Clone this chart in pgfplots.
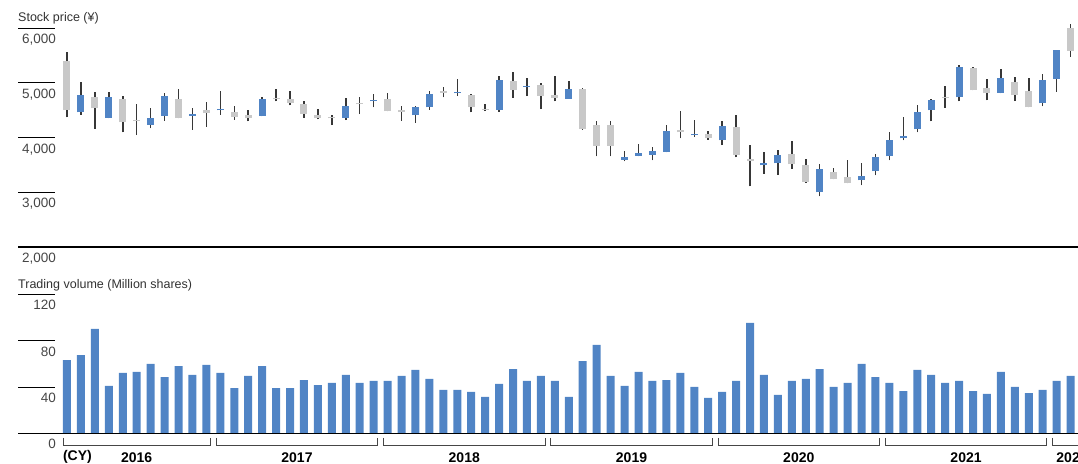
\documentclass[border=0pt]{standalone}
\usepackage{pgfplots}
\pgfplotsset{compat=1.18}
\usepackage{pgfplotstable}
\usepackage{fontspec}
\setmainfont{Liberation Sans}

\definecolor{candleblue}{RGB}{80,132,197}
\definecolor{candlegray}{RGB}{200,200,200}
\definecolor{wickcol}{RGB}{55,55,55}
\definecolor{labelgray}{RGB}{70,70,70}
\definecolor{titlegray}{RGB}{50,50,50}
\definecolor{bracketcol}{RGB}{70,70,70}

% monthly candles, rising months (blue): x, body low/high, wick low/high
\pgfplotstableread{
x lo hi low high
1 4460 4783 4418 5026
3 4363 4746 4350 4838
6 4235 4363 4168 4540
7 4400 4765 4308 4807
9 4400 4436 4144 4540
11 4497 4525 4418 4856
14 4400 4710 4388 4734
20 4363 4582 4320 4722
22 4661 4685 4552 4795
25 4406 4564 4272 4576
26 4552 4801 4509 4856
28 4807 4838 4759 5063
31 4509 5057 4473 5130
33 4929 4950 4759 5093
36 4710 4892 4710 5032
40 3597 3651 3566 3761
41 3670 3724 3657 3889
42 3688 3761 3584 3822
43 3743 4126 3730 4235
45 4041 4071 4010 4327
47 3949 4217 3864 4302
50 3493 3542 3335 3737
51 3530 3688 3323 3773
54 3001 3432 2928 3518
57 3220 3305 3128 3536
58 3384 3651 3311 3706
59 3657 3962 3584 4096
60 3986 4035 3949 4369
61 4150 4473 4096 4600
62 4497 4692 4296 4704
64 4734 5294 4661 5336
67 4819 5093 4807 5263
70 4625 5057 4570 5166
71 5081 5604 4838 5604
}\upcandles

% falling months (grey)
\pgfplotstableread{
x lo hi low high
0 4497 5403 4369 5567
2 4533 4746 4162 4838
4 4278 4710 4095 4765
5 4305 4325 4047 4619
8 4363 4710 4351 4898
10 4442 4497 4199 4655
12 4381 4473 4327 4576
13 4351 4418 4296 4509
15 4698 4716 4661 4892
16 4625 4710 4588 4844
17 4436 4619 4363 4667
18 4351 4418 4333 4521
19 4351 4381 4229 4418
21 4606 4630 4430 4740
23 4479 4710 4479 4819
24 4467 4497 4308 4576
27 4825 4856 4734 4929
29 4552 4783 4460 4801
30 4509 4530 4485 4613
32 4874 5038 4728 5203
34 4765 4965 4521 4996
35 4728 4783 4661 5130
37 4156 4892 4144 4904
38 3852 4235 3657 4308
39 3852 4235 3657 4308
44 4095 4144 3986 4485
46 3998 4071 3962 4120
48 3688 4199 3639 4412
49 3566 3615 3110 3870
52 3511 3706 3432 3931
53 3195 3505 3177 3615
55 3238 3371 3238 3451
56 3165 3286 3165 3591
63 4728 4750 4546 4941
65 4862 5276 4862 5288
66 4807 4910 4679 5069
68 4771 5020 4667 5111
69 4552 4856 4552 5093
72 5592 6006 5482 6078
}\downcandles

% trading volume, million shares
\pgfplotstableread{
x v
0 63.3
1 67.6
2 90.1
3 40.9
4 52.1
5 53.0
6 59.9
7 48.6
8 58.1
9 50.4
10 59.0
11 52.1
12 39.1
13 49.5
14 58.1
15 39.1
16 39.1
17 46.0
18 41.7
19 43.5
20 50.4
21 43.5
22 45.2
23 45.2
24 49.5
25 54.7
26 46.9
27 37.4
28 37.4
29 35.7
30 31.4
31 42.6
32 55.5
33 45.2
34 49.5
35 45.2
36 31.4
37 62.4
38 76.3
39 49.5
40 40.9
41 53.0
42 45.2
43 46.0
44 52.1
45 40.0
46 30.5
47 35.7
48 45.2
49 95.3
50 50.4
51 33.1
52 45.2
53 46.9
54 55.5
55 40.0
56 43.5
57 59.9
58 48.6
59 43.5
60 36.5
61 54.7
62 50.4
63 43.5
64 45.2
65 36.5
66 34.0
67 53.0
68 40.0
69 34.8
70 37.4
71 45.2
72 49.5
}\volume

\pgfplotsset{
  panel/.style={
    scale only axis, width=1060pt,
    xmin=-3.515, xmax=72.53,
    axis line style={draw=none},
    xtick=\empty, ytick pos=left,
    tick align=inside, major tick length=37pt,
    ytick style={black, line width=0.9pt},
    /pgf/number format/assume math mode=true,
    yticklabel style={font=\fontsize{13.5}{15}\selectfont, text=labelgray,
      anchor=north east, inner sep=0pt, xshift=38pt, yshift=-6pt},
    clip=false,
  },
  candle/.style 2 args={draw=none, mark=none, forget plot,
    error bars/.cd, y dir=plus, y explicit, error mark=none,
    error bar style={draw=#1, line width=#2}},
}

\begin{document}
\begin{tikzpicture}
\useasboundingbox (0,0) rectangle (1078pt,-463pt);

\node[anchor=base west, inner sep=0pt, text=titlegray, font=\fontsize{12.5}{14}\selectfont]
  at (18pt,-21pt) {Stock price (¥)};
\node[anchor=base west, inner sep=0pt, text=titlegray, font=\fontsize{12.5}{14}\selectfont]
  at (18pt,-288pt) {Trading volume (Million shares)};

% stock price candles
\begin{axis}[panel,
  at={(18pt,-247pt)}, anchor=south west, height=229.7pt,
  ymin=2000, ymax=6200,
  ytick={2000,3000,4000,5000,6000},
  yticklabel style={/pgf/number format/fixed, /pgf/number format/1000 sep={,}},
]
\draw[black, line width=1.3pt] (rel axis cs:0,0) -- (rel axis cs:1,0);
% wicks
\addplot[candle={wickcol}{1.5pt}]
  table[x=x, y=low, y error plus expr=\thisrow{high}-\thisrow{low}] {\upcandles};
\addplot[candle={wickcol}{1.5pt}]
  table[x=x, y=low, y error plus expr=\thisrow{high}-\thisrow{low}] {\downcandles};
% bodies
\addplot[candle={candleblue}{7pt}]
  table[x=x, y=lo, y error plus expr=\thisrow{hi}-\thisrow{lo}] {\upcandles};
\addplot[candle={candlegray}{7pt}]
  table[x=x, y=lo, y error plus expr=\thisrow{hi}-\thisrow{lo}] {\downcandles};
\end{axis}

% trading volume
\begin{axis}[panel,
  at={(18pt,-433.3pt)}, anchor=south west, height=144.75pt,
  ymin=0, ymax=125,
  ytick={0,40,80,120},
]
\addplot[ybar, bar width=8pt, fill=candleblue, draw=none] table[x=x, y=v] {\volume};
\draw[black, line width=1.6pt] (rel axis cs:0,0) -- (rel axis cs:1,0);
% calendar-year brackets
\draw[bracketcol, line width=0.9pt] ([yshift=-4.5pt]axis cs:-0.29,0) -- ([yshift=-12pt]axis cs:-0.29,0) -- ([yshift=-12pt]axis cs:10.29,0) -- ([yshift=-4.5pt]axis cs:10.29,0);
\draw[bracketcol, line width=0.9pt] ([yshift=-4.5pt]axis cs:10.71,0) -- ([yshift=-12pt]axis cs:10.71,0) -- ([yshift=-12pt]axis cs:22.29,0) -- ([yshift=-4.5pt]axis cs:22.29,0);
\draw[bracketcol, line width=0.9pt] ([yshift=-4.5pt]axis cs:22.71,0) -- ([yshift=-12pt]axis cs:22.71,0) -- ([yshift=-12pt]axis cs:34.29,0) -- ([yshift=-4.5pt]axis cs:34.29,0);
\draw[bracketcol, line width=0.9pt] ([yshift=-4.5pt]axis cs:34.71,0) -- ([yshift=-12pt]axis cs:34.71,0) -- ([yshift=-12pt]axis cs:46.29,0) -- ([yshift=-4.5pt]axis cs:46.29,0);
\draw[bracketcol, line width=0.9pt] ([yshift=-4.5pt]axis cs:46.71,0) -- ([yshift=-12pt]axis cs:46.71,0) -- ([yshift=-12pt]axis cs:58.29,0) -- ([yshift=-4.5pt]axis cs:58.29,0);
\draw[bracketcol, line width=0.9pt] ([yshift=-4.5pt]axis cs:58.71,0) -- ([yshift=-12pt]axis cs:58.71,0) -- ([yshift=-12pt]axis cs:70.29,0) -- ([yshift=-4.5pt]axis cs:70.29,0);
\draw[bracketcol, line width=0.9pt] ([yshift=-4.5pt]axis cs:70.71,0) -- ([yshift=-12pt]axis cs:70.71,0) -- ([yshift=-12pt]axis cs:72.53,0);
\begin{scope}[every node/.style={font=\bfseries\fontsize{14}{16}\selectfont, inner sep=0pt}]
\node[anchor=west] at ([yshift=-24pt]axis cs:-0.3,0) {(CY)};
\node at ([yshift=-24pt]axis cs:5,0) {2016};
\node at ([yshift=-24pt]axis cs:16.5,0) {2017};
\node at ([yshift=-24pt]axis cs:28.5,0) {2018};
\node at ([yshift=-24pt]axis cs:40.5,0) {2019};
\node at ([yshift=-24pt]axis cs:52.5,0) {2020};
\node at ([yshift=-24pt]axis cs:64.5,0) {2021};
\node at ([yshift=-24pt]axis cs:72.1,0) {2022};
\end{scope}
\end{axis}
\end{tikzpicture}
\end{document}
